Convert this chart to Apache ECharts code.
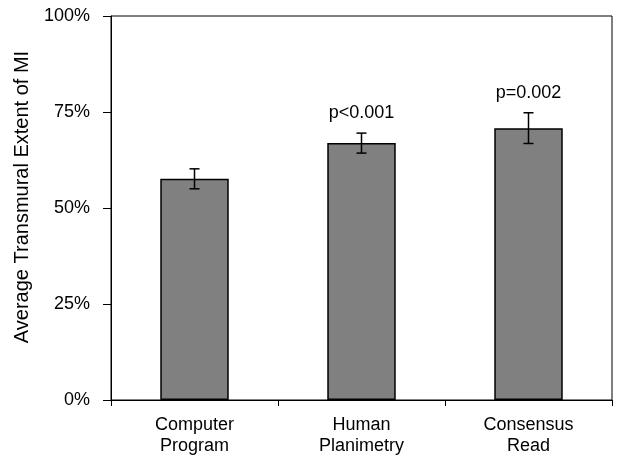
<!DOCTYPE html>
<html><head><meta charset="utf-8">
<script src="https://cdn.jsdelivr.net/npm/echarts@6/dist/echarts.min.js"></script>
<style>html,body{margin:0;padding:0;background:#fff}#c{width:618px;height:458px}</style>
</head><body><div id="c"></div>
<script>
const categories = ["Computer\nProgram", "Human\nPlanimetry", "Consensus\nRead"];
const meanValues = [57.6, 66.9, 70.8];
const errorValues = [2.6, 2.6, 4.0];
const pLabels = ["", "p<0.001", "p=0.002"];
const yTicks = [0, 25, 50, 75, 100];
const yTitle = 'Average Transmural Extent of MI';

const chart = echarts.init(document.getElementById('c'), null, {renderer: 'canvas'});
const font = 'Liberation Sans, Arial, sans-serif';
const errData = meanValues.map((v, i) => [i, v - errorValues[i], v + errorValues[i], pLabels[i]]);

chart.setOption({
  animation: false,
  grid: {left: 111, right: 6, top: 16, bottom: 58, show: true, borderColor: '#000', borderWidth: 1, backgroundColor: 'transparent'},
  graphic: [{
    type: 'text', x: 22, y: 197, rotation: Math.PI / 2,
    style: {text: yTitle, align: 'center', verticalAlign: 'middle', fill: '#000', font: '20px ' + font}
  }],
  xAxis: {
    type: 'category', data: categories, boundaryGap: true,
    axisLine: {lineStyle: {color: '#000', width: 1}},
    axisTick: {show: true, alignWithLabel: false, length: 6, lineStyle: {color: '#000'}},
    axisLabel: {color: '#000', fontFamily: font, fontSize: 18, lineHeight: 21, margin: 15}
  },
  yAxis: {
    type: 'value', min: yTicks[0], max: yTicks[yTicks.length - 1], interval: 25,
    axisLine: {show: true, lineStyle: {color: '#000', width: 1}},
    axisTick: {show: true, length: 8, lineStyle: {color: '#000'}},
    splitLine: {show: false},
    axisLabel: {color: '#000', fontFamily: font, fontSize: 18, margin: 21, formatter: '{value}%'}
  },
  series: [
    {
      type: 'bar', data: meanValues, barWidth: '41%',
      itemStyle: {color: '#808080', borderColor: '#000', borderWidth: 1.5},
      z: 2
    },
    {
      type: 'custom', data: errData, z: 5,
      renderItem: function (params, api) {
        const x = api.value(0);
        const lo = api.coord([x, api.value(1)]);
        const hi = api.coord([x, api.value(2)]);
        const cap = 5;
        const style = {stroke: '#000', lineWidth: 1.5};
        const children = [
          {type: 'line', shape: {x1: lo[0], y1: lo[1], x2: hi[0], y2: hi[1]}, style: style},
          {type: 'line', shape: {x1: lo[0] - cap, y1: lo[1], x2: lo[0] + cap, y2: lo[1]}, style: style},
          {type: 'line', shape: {x1: hi[0] - cap, y1: hi[1], x2: hi[0] + cap, y2: hi[1]}, style: style}
        ];
        const t = api.value(3);
        if (t) {
          children.push({type: 'text', style: {text: t, x: hi[0], y: hi[1] - 11, align: 'center', verticalAlign: 'bottom', fill: '#000', font: '18px ' + font}});
        }
        return {type: 'group', children: children};
      }
    }
  ]
});
</script></body></html>
